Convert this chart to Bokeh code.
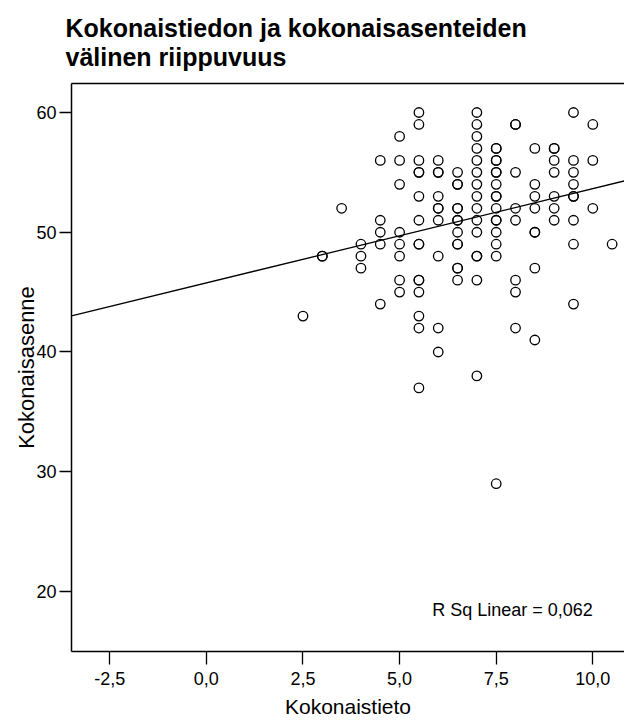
import numpy as np
from bokeh.plotting import figure
from bokeh.models import LinearAxis, FixedTicker, Label, CustomJSTickFormatter
from bokeh.embed import file_html
from bokeh.resources import INLINE

# ---- texts / ticks ----
title_text = "Kokonaistiedon ja kokonaisasenteiden\nvälinen riippuvuus"
x_label = "Kokonaistieto"
y_label = "Kokonaisasenne"
x_ticks = [-2.5, 0.0, 2.5, 5.0, 7.5, 10.0]
y_ticks = [20, 30, 40, 50, 60]
r2_text = "R Sq Linear = 0,062"

# ---- data (one entry per visible respondent) ----
kokonaistieto = [
    2.5,
    3.0, 3.0,
    3.5,
    4.0, 4.0, 4.0,
    4.5, 4.5, 4.5, 4.5, 4.5,
    5.0, 5.0, 5.0, 5.0, 5.0, 5.0, 5.0, 5.0,
    5.5, 5.5, 5.5, 5.5, 5.5, 5.5, 5.5, 5.5, 5.5, 5.5, 5.5, 5.5, 5.5, 5.5, 5.5,
    6.0, 6.0, 6.0, 6.0, 6.0, 6.0, 6.0, 6.0, 6.0, 6.0,
    6.5, 6.5, 6.5, 6.5, 6.5, 6.5, 6.5, 6.5, 6.5, 6.5, 6.5, 6.5, 6.5,
    7.0, 7.0, 7.0, 7.0, 7.0, 7.0, 7.0, 7.0, 7.0, 7.0, 7.0, 7.0, 7.0, 7.0, 7.0,
    7.5, 7.5, 7.5, 7.5, 7.5, 7.5, 7.5, 7.5, 7.5, 7.5, 7.5, 7.5, 7.5, 7.5, 7.5, 7.5,
    8.0, 8.0, 8.0, 8.0, 8.0, 8.0, 8.0, 8.0,
    8.5, 8.5, 8.5, 8.5, 8.5, 8.5, 8.5, 8.5,
    9.0, 9.0, 9.0, 9.0, 9.0, 9.0, 9.0,
    9.5, 9.5, 9.5, 9.5, 9.5, 9.5, 9.5, 9.5, 9.5,
    10.0, 10.0, 10.0,
    10.5,
]
kokonaisasenne = [
    43,
    48, 48,
    52,
    49, 48, 47,
    56, 51, 50, 49, 44,
    58, 56, 54, 50, 49, 48, 46, 45,
    60, 59, 56, 55, 55, 53, 51, 49, 49, 46, 46, 45, 43, 42, 37,
    56, 55, 55, 53, 52, 52, 51, 48, 42, 40,
    55, 54, 54, 52, 52, 51, 51, 50, 49, 49, 47, 47, 46,
    60, 59, 58, 57, 56, 55, 54, 53, 52, 51, 50, 48, 48, 46, 38,
    57, 57, 56, 56, 55, 55, 54, 53, 53, 52, 51, 51, 50, 49, 48, 29,
    59, 59, 55, 52, 51, 46, 45, 42,
    57, 54, 53, 52, 50, 50, 47, 41,
    57, 57, 56, 55, 53, 52, 51,
    60, 56, 55, 54, 53, 53, 51, 49, 44,
    59, 56, 52,
    49,
]

# linear fit
fit_intercept = 45.77
fit_slope = 0.787

x_start, x_end = -3.49, 10.82
y_start, y_end = 14.99, 62.42

NARROW = "'Liberation Sans Narrow', 'Arial Narrow', 'Liberation Sans', sans-serif"
REG = "'Liberation Sans', Arial, sans-serif"

p = figure(width=624, height=720,
           x_range=(x_start, x_end), y_range=(y_start, y_end),
           output_backend="svg", toolbar_location=None,
           min_border_left=71, min_border_right=0,
           min_border_top=83, min_border_bottom=67,
           x_axis_label=x_label, y_axis_label=y_label)

p.title.text = title_text
p.title.text_font = REG
p.title.text_font_size = "25px"
p.title.text_font_style = "bold"
p.title.text_line_height = 1.05
p.title.text_color = "black"
p.title.align = "left"
p.title.vertical_align = "top"
p.title.offset = -6
p.title.standoff = 22

p.outline_line_color = None
p.grid.visible = False
p.background_fill_color = "white"
p.border_fill_color = "white"

xa = p.xaxis[0]
ya = p.yaxis[0]
xa.ticker = FixedTicker(ticks=x_ticks)
ya.ticker = FixedTicker(ticks=y_ticks)
xa.formatter = CustomJSTickFormatter(code="return tick.toFixed(1).replace('.', ',');")

for ax, tick_len in ((xa, 13), (ya, 12)):
    ax.axis_line_color = "black"
    ax.axis_line_width = 1.5
    ax.major_tick_line_color = "black"
    ax.major_tick_line_width = 1.3
    ax.major_tick_in = 0
    ax.major_tick_out = tick_len
    ax.minor_tick_line_color = None
    ax.major_label_text_font = NARROW
    ax.major_label_text_font_size = "18px"
    ax.major_label_text_color = "black"
    ax.axis_label_text_font_style = "normal"
    ax.axis_label_text_color = "black"

xa.major_label_standoff = 7
xa.axis_label_text_font = NARROW
xa.axis_label_text_font_size = "21px"
xa.axis_label_standoff = 7

ya.major_label_standoff = 3
ya.axis_label_text_font = REG
ya.axis_label_text_font_size = "22px"
ya.axis_label_standoff = -6

top = LinearAxis(ticker=FixedTicker(ticks=[]), axis_line_color="black",
                 axis_line_width=1.5, major_tick_line_color=None,
                 minor_tick_line_color=None, major_label_text_font_size="0px",
                 major_label_standoff=0)
p.add_layout(top, "above")

# regression line
fit_x = [x_start, x_end]
fit_y = [fit_intercept + fit_slope * v for v in fit_x]
p.line(fit_x, fit_y, line_color="black", line_width=1.3)

p.scatter(x=kokonaistieto, y=kokonaisasenne, marker="circle", size=9.5,
          fill_color=None, line_color="black", line_width=1.3)

p.add_layout(Label(x=10.0, y=18.45, text=r2_text, text_align="right",
                   text_baseline="middle", text_font=NARROW,
                   text_font_size="18px", text_color="black"))

open("out.html", "w").write(file_html(p, INLINE))
